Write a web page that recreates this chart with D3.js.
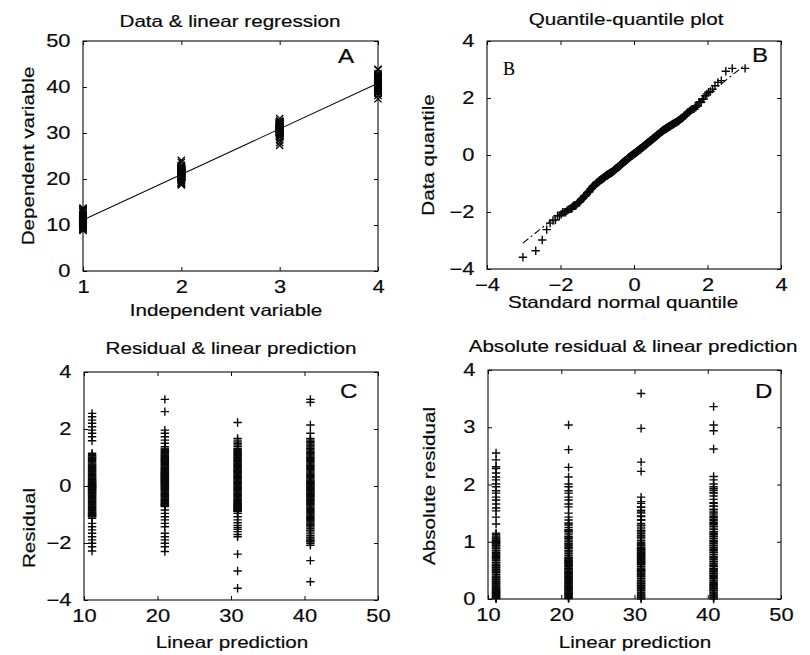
<!DOCTYPE html>
<html><head><meta charset="utf-8">
<script src="https://cdn.jsdelivr.net/npm/d3@7"></script>
<style>
html,body{margin:0;padding:0;background:#fff;}
svg{display:block;}
text{font-family:"Liberation Sans",Arial,Helvetica,sans-serif;fill:#0a0a0a;stroke:#0a0a0a;stroke-width:0.2px;}
</style></head>
<body><svg id="chart" width="810" height="655"></svg>
<script>
// ---------------- data ----------------
const independentValues = [1, 2, 3, 4];
const linearPredictions = [11.1, 21.0, 30.9, 40.8];

const residualsGroup1 = [2.55,2.43,2.31,2.20,2.08,1.96,1.85,1.73,1.59,
  1.15,1.10,1.06,1.02,0.99,0.96,0.93,0.89,0.85,0.81,0.77,0.74,0.71,0.68,0.64,0.61,0.58,0.55,0.52,0.49,
  0.46,0.43,0.40,0.37,0.34,0.31,0.28,0.26,0.23,0.21,0.18,0.16,0.14,0.12,0.10,0.08,0.06,0.04,0.02,0.01,
  -0.01,-0.03,-0.05,-0.07,-0.09,-0.11,-0.13,-0.16,-0.18,-0.21,-0.23,-0.26,-0.28,-0.31,-0.34,-0.37,-0.40,
  -0.43,-0.46,-0.49,-0.52,-0.55,-0.58,-0.61,-0.64,-0.67,-0.70,-0.73,-0.76,-0.79,-0.82,-0.85,-0.88,-0.91,
  -0.94,-0.97,-0.99,-1.01,-1.03,-1.05,-1.08,
  -1.13,-1.31,-1.43,-1.54,-1.66,-1.78,-1.89,-2.01,-2.13,-2.28];

const residualsGroup2 = [3.04,2.61,1.96,1.85,1.73,1.61,1.50,
  1.38,1.33,1.29,1.25,1.21,1.18,1.15,1.12,1.09,1.06,1.03,1.00,0.97,0.94,0.91,0.88,0.85,0.82,0.79,0.76,
  0.73,0.70,0.67,0.64,0.61,0.58,0.56,0.53,0.51,0.48,0.46,0.44,0.42,0.40,0.38,0.36,0.34,0.32,0.30,0.28,
  0.26,0.24,0.22,0.20,0.18,0.16,0.14,0.12,0.10,0.08,0.06,0.03,0.01,-0.02,-0.04,-0.07,-0.09,-0.12,-0.15,
  -0.18,-0.21,-0.24,-0.27,-0.30,-0.33,-0.36,-0.39,-0.42,-0.45,-0.48,-0.51,-0.54,-0.57,-0.60,-0.62,-0.64,
  -0.66,-0.68,-0.70,-0.72,0.90,
  -0.84,-0.96,-1.08,-1.19,-1.31,-1.43,-1.66,-1.78,-1.89,-2.01,-2.13,-2.30];

const residualsGroup3 = [2.23,1.67,1.61,1.55,1.50,1.44,1.38,
  1.32,1.28,1.24,1.20,1.17,1.14,1.11,1.08,1.05,1.02,0.99,0.96,0.93,0.90,0.87,0.84,0.81,0.78,0.75,0.72,
  0.69,0.66,0.63,0.60,0.57,0.54,0.51,0.48,0.45,0.42,0.39,0.36,0.33,0.30,0.27,0.24,0.21,0.18,0.15,0.12,
  0.09,0.06,0.03,0.00,-0.03,-0.06,-0.09,-0.12,-0.15,-0.18,-0.21,-0.24,-0.27,-0.30,-0.33,-0.36,-0.39,
  -0.42,-0.45,-0.48,-0.51,-0.54,-0.57,-0.60,-0.62,-0.64,-0.66,-0.68,-0.70,-0.72,-0.74,-0.76,-0.78,-0.80,
  -0.82,-0.84,-0.86,-0.88,-0.90,0.50,
  -0.96,-1.08,-1.19,-1.29,-1.38,-1.45,-1.52,-1.60,-1.70,-1.78,-2.39,-2.98,-3.59];

const residualsGroup4 = [3.04,2.94,2.14,1.85,
  1.67,1.62,1.57,1.52,1.47,1.42,1.37,1.32,1.27,1.22,1.17,1.13,1.09,1.05,1.01,0.97,0.93,0.89,0.85,0.81,
  0.77,0.73,0.69,0.65,0.61,0.57,0.53,0.49,0.45,0.41,0.37,0.33,0.29,0.25,0.21,0.18,0.15,0.12,0.09,0.06,
  0.03,0.00,-0.03,-0.06,-0.09,-0.12,-0.15,-0.18,-0.21,-0.24,-0.27,-0.30,-0.33,-0.36,-0.39,-0.42,-0.45,
  -0.48,-0.51,-0.54,-0.58,-0.62,-0.66,-0.70,-0.74,-0.78,-0.82,-0.86,-0.90,-0.94,-0.98,-1.02,-1.06,-1.10,
  -1.14,-1.18,-1.22,-1.26,-1.30,-1.34,-1.39,-1.44,-1.50,-1.56,-1.62,-1.68,-1.74,-1.80,-1.86,-1.90,
  -1.93,-1.96,-2.01,-2.08,-2.62,-3.36];

const residualGroups = [residualsGroup1, residualsGroup2, residualsGroup3, residualsGroup4];

// tick labels
const ticksIndependent = [1, 2, 3, 4];
const ticksDependent = [0, 10, 20, 30, 40, 50];
const ticksQuantile = [-4, -2, 0, 2, 4];
const ticksPrediction = [10, 20, 30, 40, 50];
const ticksResidual = [-4, -2, 0, 2, 4];
const ticksAbsResidual = [0, 1, 2, 3, 4];

// texts
const panelTitles = ["Data & linear regression", "Quantile-quantile plot",
  "Residual & linear prediction", "Absolute residual & linear prediction"];
const xLabels = ["Independent variable", "Standard normal quantile", "Linear prediction", "Linear prediction"];
const yLabels = ["Dependent variable", "Data quantile", "Residual", "Absolute residual"];
const panelLetters = ["A", "B", "C", "D"];

// ---------------- layout ----------------
const SX = 1.25;       // horizontal stretch of the scanned typeface
const FS = 16.5;       // label font size
const TFS = 17.5;      // tick font size
const INK = "#0a0a0a";

const panels = [
  {x0:83, x1:378, y0:41, y1:271, xd:[1,4], yd:[0,50], xt:ticksIndependent, yt:ticksDependent,
   tX:230, tY:27, xlX:226, xlY:316, ylX:34, ylY:156, lX:338, lY:63},
  {x0:487, x1:781, y0:41, y1:269, xd:[-4,4], yd:[-4,4], xt:ticksQuantile, yt:ticksQuantile,
   tX:626, tY:25, xlX:623, xlY:308, ylX:434, ylY:155, lX:752, lY:62},
  {x0:84, x1:378, y0:372, y1:600, xd:[10,50], yd:[-4,4], xt:ticksPrediction, yt:ticksResidual,
   tX:231, tY:354, xlX:232, xlY:648, ylX:35, ylY:528, lX:340, lY:398},
  {x0:488, x1:781, y0:370, y1:599, xd:[10,50], yd:[0,4], xt:ticksPrediction, yt:ticksAbsResidual,
   tX:633, tY:352, xlX:635, xlY:648, ylX:435, ylY:486, lX:755, lY:398}
];

const svg = d3.select("#chart");
svg.append("rect").attr("width",810).attr("height",655).attr("fill","#fff");

function text(g, str, x, y, opt) {
  opt = opt || {};
  const rot = opt.rot || 0, sx = opt.sx == null ? SX : opt.sx;
  return g.append("text")
    .attr("transform", `translate(${x},${y}) rotate(${rot}) scale(${sx},1)`)
    .attr("text-anchor", opt.anchor || "middle")
    .style("font-size", (opt.size || FS) + "px")
    .style("font-family", opt.family || null)
    .text(str);
}

const plusPath = "M-4.2,0H4.2M0,-4.2V4.2";
const crossPath = "M-3.6,-3.6L3.6,3.6M-3.6,3.6L3.6,-3.6";

const scales = panels.map((P, i) => {
  const xs = d3.scaleLinear().domain(P.xd).range([P.x0, P.x1]);
  const ys = d3.scaleLinear().domain(P.yd).range([P.y1, P.y0]);
  const g = svg.append("g");
  const fmt = d3.format("d");

  const ax = [
    [d3.axisBottom(xs).tickValues(P.xt).tickSize(-4).tickPadding(10).tickFormat(fmt), `translate(0,${P.y1})`],
    [d3.axisTop(xs).tickValues(P.xt).tickSize(-4).tickFormat(""), `translate(0,${P.y0})`],
    [d3.axisLeft(ys).tickValues(P.yt).tickSize(-4).tickPadding(10).tickFormat(fmt), `translate(${P.x0},0)`],
    [d3.axisRight(ys).tickValues(P.yt).tickSize(-4).tickFormat(""), `translate(${P.x1},0)`]
  ];
  ax.forEach(([axis, tr]) => {
    const a = g.append("g").attr("transform", tr).call(axis);
    a.select(".domain").remove();
    a.selectAll(".tick line").attr("stroke", INK).attr("stroke-width", 1);
    a.selectAll(".tick text").attr("fill", INK)
      .style("font-family", '"Liberation Sans",Arial,Helvetica,sans-serif')
      .style("font-size", TFS + "px")
      .attr("transform", `scale(${SX},1)`);
  });
  g.append("rect").attr("x", P.x0).attr("y", P.y0)
    .attr("width", P.x1 - P.x0).attr("height", P.y1 - P.y0)
    .attr("fill", "none").attr("stroke", INK).attr("stroke-width", 1.1);

  text(svg, panelTitles[i], P.tX, P.tY);
  text(svg, xLabels[i], P.xlX, P.xlY);
  text(svg, yLabels[i], P.ylX, P.ylY, {rot: -90});
  text(svg, panelLetters[i], P.lX, P.lY, {anchor: "start", size: 21, sx: 1.15});
  return {xs, ys, g};
});

// ---------- Panel A: data & regression line ----------
{
  const {xs, ys, g} = scales[0];
  const pts = [];
  residualGroups.forEach((res, k) => res.forEach(r => pts.push([independentValues[k], linearPredictions[k] + r])));
  g.append("g").selectAll("path").data(pts).join("path")
    .attr("d", crossPath)
    .attr("transform", d => `translate(${xs(d[0])},${ys(d[1])})`)
    .attr("stroke", INK).attr("stroke-width", 1.4).attr("fill", "none");
  const line = d3.line().x(d => xs(d[0])).y(d => ys(d[1]));
  g.append("path")
    .datum([[independentValues[0], linearPredictions[0]], [independentValues[3], linearPredictions[3]]])
    .attr("d", line).attr("stroke", INK).attr("stroke-width", 1.1).attr("fill", "none");
}

// ---------- Panel B: normal quantile-quantile plot ----------
function norminv(p){
  const a=[-3.969683028665376e+01,2.209460984245205e+02,-2.759285104469687e+02,1.383577518672690e+02,-3.066479806614716e+01,2.506628277459239e+00];
  const b=[-5.447609879822406e+01,1.615858368580409e+02,-1.556989798598866e+02,6.680131188771972e+01,-1.328068155288572e+01];
  const c=[-7.784894002430293e-03,-3.223964580411365e-01,-2.400758277161838e+00,-2.549732539343734e+00,4.374664141464968e+00,2.938163982698783e+00];
  const d=[7.784695709041462e-03,3.224671290700398e-01,2.445134137142996e+00,3.754408661907416e+00];
  const pl=0.02425, ph=1-pl; let q, r;
  if (p < pl) { q=Math.sqrt(-2*Math.log(p)); return (((((c[0]*q+c[1])*q+c[2])*q+c[3])*q+c[4])*q+c[5])/((((d[0]*q+d[1])*q+d[2])*q+d[3])*q+1); }
  if (p <= ph) { q=p-0.5; r=q*q; return (((((a[0]*r+a[1])*r+a[2])*r+a[3])*r+a[4])*r+a[5])*q/(((((b[0]*r+b[1])*r+b[2])*r+b[3])*r+b[4])*r+1); }
  q=Math.sqrt(-2*Math.log(1-p)); return -(((((c[0]*q+c[1])*q+c[2])*q+c[3])*q+c[4])*q+c[5])/((((d[0]*q+d[1])*q+d[2])*q+d[3])*q+1);
}
{
  const {xs, ys, g} = scales[1];
  const sorted = residualGroups.flat().slice().sort((u, v) => u - v);
  const n = sorted.length;
  const qq = sorted.map((v, i) => [norminv((i + 0.5) / n), v]);
  const zs = qq.map(d => d[0]);
  const x25 = d3.quantile(zs, 0.25), x75 = d3.quantile(zs, 0.75);
  const y25 = d3.quantile(sorted, 0.25), y75 = d3.quantile(sorted, 0.75);
  const slope = (y75 - y25) / (x75 - x25);
  const f = x => y25 + slope * (x - x25);
  const line = d3.line().x(d => xs(d[0])).y(d => ys(d[1]));
  const xmin = zs[0], xmax = zs[n - 1];
  g.append("path").datum([[xmin, f(xmin)], [xmax, f(xmax)]]).attr("d", line)
    .attr("stroke", INK).attr("stroke-width", 1.1).attr("fill", "none")
    .attr("stroke-dasharray", "7,3,2,3");
  g.append("path").datum([[x25, y25], [x75, y75]]).attr("d", line)
    .attr("stroke", INK).attr("stroke-width", 1.1).attr("fill", "none");
  g.append("g").selectAll("path").data(qq).join("path")
    .attr("d", plusPath)
    .attr("transform", d => `translate(${xs(d[0])},${ys(d[1])})`)
    .attr("stroke", INK).attr("stroke-width", 1.4).attr("fill", "none");
  // serif panel mark
  text(svg, "B", 503, 75, {anchor: "start", size: 18, sx: 1, family: '"Liberation Serif","Times New Roman",serif'});
}

// ---------- Panels C & D: residuals vs prediction ----------
[2, 3].forEach(pi => {
  const {xs, ys, g} = scales[pi];
  const pts = [];
  residualGroups.forEach((res, k) => res.forEach(r => pts.push([linearPredictions[k], pi === 2 ? r : Math.abs(r)])));
  g.append("g").selectAll("path").data(pts).join("path")
    .attr("d", plusPath)
    .attr("transform", d => `translate(${xs(d[0])},${ys(d[1])})`)
    .attr("stroke", INK).attr("stroke-width", 1.4).attr("fill", "none");
});
</script></body></html>
